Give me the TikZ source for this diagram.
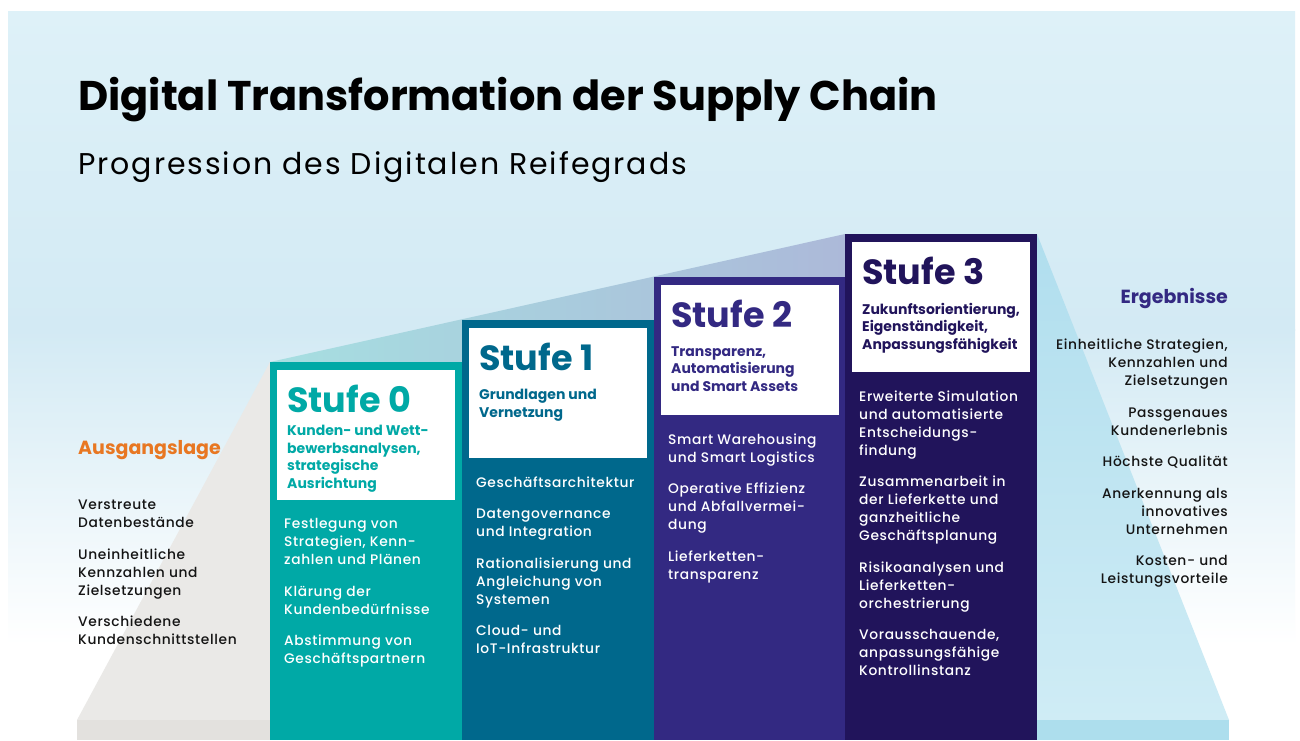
\documentclass[tikz,border=0pt]{standalone}
\usepackage{fontspec}
\setmainfont{Poppins}
\IfFontExistsTF{Poppins Medium}
  {\newfontfamily\mittel{Poppins Medium}[LetterSpace=4.5]}
  {\newfontfamily\mittel{Poppins}[LetterSpace=4.5]}
\newfontfamily\weit{Poppins}[LetterSpace=6.5]
\usetikzlibrary{positioning, calc}

\definecolor{tuerkis}{RGB}{0,169,166}
\definecolor{petrol}{RGB}{0,104,140}
\definecolor{violett}{RGB}{51,41,130}
\definecolor{nachtblau}{RGB}{33,20,91}
\definecolor{orangeAL}{RGB}{232,119,34}
\definecolor{himmelOben}{RGB}{222,241,248}
\definecolor{himmel}{RGB}{211,234,244}
\definecolor{steingrau}{RGB}{234,233,231}
\definecolor{steinboden}{RGB}{227,225,222}
\definecolor{eisblau}{RGB}{176,222,238}
\definecolor{eisblauHell}{RGB}{207,236,245}
\definecolor{eisboden}{RGB}{173,222,237}
\definecolor{rampeA}{RGB}{166,223,225}
\definecolor{rampeB}{RGB}{164,204,220}
\definecolor{rampeC}{RGB}{172,185,217}
\definecolor{textschwarz}{RGB}{20,20,20}

% Abstand zwischen zwei Punkten einer Liste
\newcommand{\absatz}{\\[13.5pt]}

\begin{document}
\begin{tikzpicture}[
  x=1pt, y=-1pt,
  saeule/.style={rectangle, anchor=north west, minimum width=192pt,
                 inner sep=0pt, outer sep=0pt},
  kopf/.style={rectangle, fill=white, anchor=north west,
               minimum width=178pt, minimum height=130pt, inner sep=0pt},
  stufe/.style={anchor=north west, inner sep=0pt,
                font=\fontsize{35}{35}\selectfont\bfseries},
  ziel/.style={anchor=north west, inner sep=0pt, align=left,
               font=\fontsize{14}{17.5}\selectfont\bfseries},
  punkte/.style={anchor=north west, inner sep=0pt, align=left, text=white,
                 font=\mittel\fontsize{13.8}{18}\selectfont},
  seite/.style={inner sep=0pt, text=textschwarz,
                font=\mittel\fontsize{13.8}{18}\selectfont},
  rubrik/.style={inner sep=0pt, font=\fontsize{19}{19}\selectfont\bfseries}
]
\useasboundingbox (0,0) rectangle (1300,740);

% Hintergrund
\fill[white] (0,0) rectangle (1300,740);
\shade[top color=himmelOben, bottom color=himmel] (8,11) rectangle (1295,330);
\shade[top color=himmel, bottom color=white] (8,329.5) rectangle (1295,645);

% Ausgangs- und Ergebnisflanke
\fill[steingrau] (77,720) -- (270,362) -- (270,720) -- cycle;
\fill[steinboden] (77,720) rectangle (270,740);
\shade[top color=eisblau, bottom color=eisblauHell]
  (1037,234) -- (1229,720) -- (1037,720) -- cycle;
\fill[eisboden] (1037,720) rectangle (1229,740);

% Rampe ueber den Stufen
\shade[left color=rampeA, middle color=rampeB, right color=rampeC]
  (270,362) -- (845,234) -- (845,362) -- cycle;

% Saeulen
\node[saeule, fill=tuerkis,   minimum height=378pt] (s0) at (270,362) {};
\node[saeule, fill=petrol,    minimum height=420pt] (s1) at (462,320) {};
\node[saeule, fill=violett,   minimum height=463pt] (s2) at (654,277) {};
\node[saeule, fill=nachtblau, minimum height=506pt] (s3) at (845,234) {};

% Kopfkaesten
\node[kopf, below right=8pt and 7pt of s0.north west] (k0) {};
\node[kopf, below right=8pt and 7pt of s1.north west] (k1) {};
\node[kopf, below right=8pt and 7pt of s2.north west] (k2) {};
\node[kopf, below right=8pt and 7pt of s3.north west] (k3) {};

% Stufe 0
\node[stufe, text=tuerkis, below right=15pt and 10pt of k0.north west] (l0) {Stufe 0};
\node[ziel, text=tuerkis, below right=55pt and 10pt of k0.north west] (z0)
  {Kunden- und Wett-\\bewerbsanalysen,\\strategische\\Ausrichtung};
\node[punkte, below right=18pt and 7pt of k0.south west] (p0)
  {Festlegung von\\Strategien, Kenn-\\zahlen und Plänen\absatz
   Klärung der\\Kundenbedürfnisse\absatz
   Abstimmung von\\Geschäftspartnern};

% Stufe 1
\node[stufe, text=petrol, below right=15pt and 10pt of k1.north west] (l1) {Stufe 1};
\node[ziel, text=petrol, below right=61pt and 10pt of k1.north west] (z1)
  {Grundlagen und\\Vernetzung};
\node[punkte, below right=18pt and 7pt of k1.south west] (p1)
  {Geschäftsarchitektur\absatz
   Datengovernance\\und Integration\absatz
   Rationalisierung und\\Angleichung von\\Systemen\absatz
   Cloud- und\\IoT-Infrastruktur};

% Stufe 2
\node[stufe, text=violett, below right=15pt and 10pt of k2.north west] (l2) {Stufe 2};
\node[ziel, text=violett, below right=61pt and 10pt of k2.north west] (z2)
  {Transparenz,\\Automatisierung\\und Smart Assets};
\node[punkte, below right=18pt and 7pt of k2.south west] (p2)
  {Smart Warehousing\\und Smart Logistics\absatz
   Operative Effizienz\\und Abfallvermei-\\dung\absatz
   Lieferketten-\\transparenz};

% Stufe 3
\node[stufe, text=nachtblau, below right=15pt and 10pt of k3.north west] (l3) {Stufe 3};
\node[ziel, text=nachtblau, below right=61pt and 10pt of k3.north west] (z3)
  {Zukunftsorientierung,\\Eigenständigkeit,\\Anpassungsfähigkeit};
\node[punkte, below right=18pt and 7pt of k3.south west] (p3)
  {Erweiterte Simulation\\und automatisierte\\Entscheidungs-\\findung\absatz
   Zusammenarbeit in\\der Lieferkette und\\ganzheitliche\\Geschäftsplanung\absatz
   Risikoanalysen und\\Lieferketten-\\orchestrierung\absatz
   Vorausschauende,\\anpassungsfähige\\Kontrollinstanz};

% Ausgangslage links
\node[rubrik, text=orangeAL, anchor=west] (ausgang) at (78,450) {Ausgangslage};
\node[seite, anchor=north west, align=left] (ausgangListe) at (78,500)
  {Verstreute\\Datenbestände\absatz
   Uneinheitliche\\Kennzahlen und\\Zielsetzungen\absatz
   Verschiedene\\Kundenschnittstellen};

% Ergebnisse rechts
\node[rubrik, text=violett, anchor=east] (ergebnis) at (1228,298) {Ergebnisse};
\node[seite, anchor=north east, align=right] (ergebnisListe) at (1228,339)
  {Einheitliche Strategien,\\Kennzahlen und\\Zielsetzungen\absatz
   Passgenaues\\Kundenerlebnis\absatz
   Höchste Qualität\absatz
   Anerkennung als\\innovatives\\Unternehmen\absatz
   Kosten- und\\Leistungsvorteile};

% Titel
\node[anchor=base west, inner sep=0pt, font=\fontsize{41.5}{41.5}\selectfont\bfseries]
  (titel) at (78,110) {Digital Transformation der Supply Chain};
\node[anchor=base west, inner sep=0pt, font=\weit\fontsize{30}{30}\selectfont]
  (untertitel) at (78,174) {Progression des Digitalen Reifegrads};
\end{tikzpicture}
\end{document}
